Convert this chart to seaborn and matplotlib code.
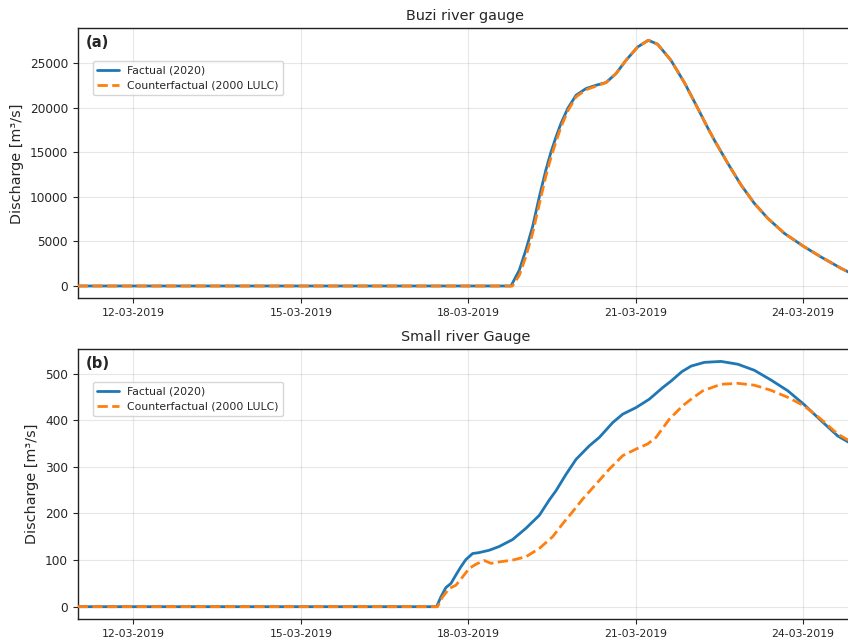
import numpy as np
import pandas as pd
import matplotlib
matplotlib.use("Agg")
import matplotlib.pyplot as plt
import matplotlib.dates as mdates
import seaborn as sns

# ---------------- data (hours relative to 18-03-2019 00:00) ----------------
base_time = "2019-03-18 00:00"

buzi_f_hours = [-168, 18.4, 22.0, 24.8, 27.7, 30.6, 33.4, 35.6, 37.8, 39.9, 42.8, 46.4,
                50.7, 55.0, 59.3, 63.6, 67.9, 72.9, 77.5, 81.5, 87.2, 93.0, 98.0, 103.1,
                105.9, 111.7, 117.4, 123.1, 128.9, 136.0, 144.4, 151.8, 160.4, 166.0]
buzi_f_vals = [0, 0, 1790, 4030, 6640, 10000, 12990, 15000, 16720, 18210, 19890, 21380,
               22130, 22500, 22800, 23810, 25300, 26790, 27540, 27090, 25300, 22800,
               20300, 17700, 16340, 13740, 11310, 9260, 7580, 5900, 4420, 3250, 1980, 1250]

buzi_c_hours = [-168, 19.0, 22.0, 24.8, 27.7, 30.6, 33.4, 35.6, 37.8, 39.9, 42.8, 46.4,
                50.7, 55.0, 59.3, 63.6, 67.9, 72.9, 77.5, 81.5, 87.2, 93.0, 98.0, 103.1,
                105.9, 111.7, 117.4, 123.1, 128.9, 136.0, 144.4, 151.8, 160.4, 166.0]
buzi_c_vals = [0, 0, 1200, 3300, 5900, 9200, 12300, 14400, 16200, 17800, 19600, 21200,
               22000, 22400, 22800, 23810, 25300, 26790, 27540, 27090, 25300, 22800,
               20300, 17700, 16340, 13740, 11310, 9260, 7580, 5900, 4420, 3250, 1980, 1250]

small_f_hours = [-168, -13.6, -11.75, -9.6, -7.4, -5.3, -3.1, -1.0, 1.9, 4.7, 9.0, 13.3,
                 19.1, 24.8, 30.6, 34.9, 37.8, 42.1, 46.4, 52.1, 56.4, 62.2, 66.5, 72.2,
                 77.9, 83.7, 87.3, 91.9, 95.9, 101.6, 108.8, 116.0, 123.1, 130.3, 137.5,
                 144.4, 151.8, 159.0, 163.9, 166.0]
small_f_vals = [0, 0, 21, 41, 50, 68, 86, 101, 114, 116, 121, 129, 144, 168, 196, 229, 249,
                284, 316, 345, 363, 395, 413, 427, 445, 470, 484, 504, 516, 524, 526, 520,
                507, 486, 463, 434, 399, 366, 352, 346]

small_c_hours = [-168, -13.2, -11.0, -8.2, -5.3, -2.4, 0.4, 3.3, 6.9, 9.8, 13.3, 19.1,
                 24.8, 30.6, 36.3, 41.3, 43.5, 49.3, 55.0, 60.7, 66.5, 72.2, 77.2, 80.8,
                 86.5, 92.3, 95.9, 100.9, 108.8, 116.0, 123.1, 130.3, 137.5, 144.4, 151.8,
                 159.0, 163.9, 166.0]
small_c_vals = [0, 0, 21, 39, 46, 64, 82, 91, 99, 93, 96, 100, 107, 125, 150, 182, 195,
                231, 263, 295, 324, 338, 349, 363, 402, 431, 445, 463, 477, 479, 475, 464,
                449, 431, 402, 370, 356, 351]

series_labels = ["Factual (2020)", "Counterfactual (2000 LULC)"]
panel_titles = ["Buzi river gauge", "Small river Gauge"]
panel_tags = ["(a)", "(b)"]
y_label = "Discharge [m³/s]"


def to_time(hours):
    return pd.Timestamp(base_time) + pd.to_timedelta(hours, unit="h")


# ---------------- figure ----------------
sns.set_style("ticks")
plt.rcParams["font.family"] = ["DejaVu Sans"]

W, H = 848, 638
fig = plt.figure(figsize=(W / 100, H / 100), dpi=100)
left = 77.7 / W
width = (852.9 - 77.7) / W
ax_top = fig.add_axes([left, 1 - 298.3 / H, width, 270.0 / H])
ax_bot = fig.add_axes([left, 1 - 619.0 / H, width, 269.7 / H])

blue = "#1f77b4"
orange = "#ff7f0e"

panels = [
    (ax_top, buzi_f_hours, buzi_f_vals, buzi_c_hours, buzi_c_vals, (-1380, 28880)),
    (ax_bot, small_f_hours, small_f_vals, small_c_hours, small_c_vals, (-26.4, 552)),
]

for i, (ax, fh, fv, ch, cv, ylim) in enumerate(panels):
    sns.lineplot(x=to_time(fh), y=fv, ax=ax, color=blue, lw=2.0,
                 label=series_labels[0], zorder=3, solid_joinstyle="round")
    sns.lineplot(x=to_time(ch), y=cv, ax=ax, color=orange, lw=2.0, linestyle="--",
                 label=series_labels[1], zorder=4, dash_joinstyle="round")
    ax.set_xlim(pd.Timestamp("2019-03-11 00:00"), pd.Timestamp("2019-03-24 21:30"))
    ax.set_ylim(*ylim)
    ax.xaxis.set_major_locator(mdates.DayLocator(bymonthday=[12, 15, 18, 21, 24]))
    ax.xaxis.set_major_formatter(mdates.DateFormatter("%d-%m-%Y"))
    ax.tick_params(axis="x", labelsize=7.8, length=3.5, width=0.8)
    ax.tick_params(axis="y", labelsize=8.7, length=3.5, width=0.8)
    ax.grid(True, color="#b0b0b0", alpha=0.3, lw=0.8)
    ax.set_axisbelow(True)
    for sp in ax.spines.values():
        sp.set_visible(True)
        sp.set_color("#222222")
        sp.set_linewidth(1.0)
    ax.set_xlabel("")
    ax.set_ylabel(y_label, fontsize=10.4)
    ax.set_title(panel_titles[i], fontsize=10.4, pad=6)
    ax.text(0.0105, 0.975, panel_tags[i], transform=ax.transAxes, ha="left", va="top",
            fontsize=10.6, fontweight="bold")
    leg = ax.legend(loc="upper left", bbox_to_anchor=(0.0195, 0.878), borderaxespad=0,
                    fontsize=7.8, frameon=True, fancybox=True, framealpha=0.8)
    leg.get_frame().set_edgecolor("#cccccc")

fig.savefig("out.png", dpi=100)
